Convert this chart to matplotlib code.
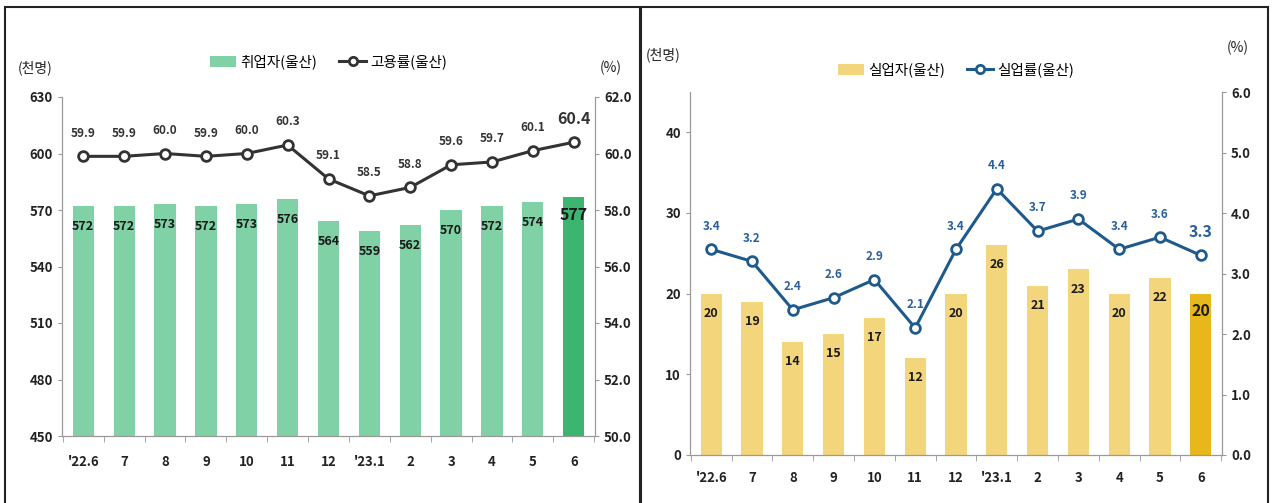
import matplotlib
matplotlib.use("Agg")
import matplotlib.pyplot as plt
from matplotlib.patches import Rectangle
from matplotlib.lines import Line2D
from matplotlib.patches import Patch

plt.rcParams['font.family'] = ['Noto Sans CJK KR', 'DejaVu Sans']

months = ["'22.6", "7", "8", "9", "10", "11", "12", "'23.1", "2", "3", "4", "5", "6"]
employed = [572, 572, 573, 572, 573, 576, 564, 559, 562, 570, 572, 574, 577]
emp_rate = [59.9, 59.9, 60.0, 59.9, 60.0, 60.3, 59.1, 58.5, 58.8, 59.6, 59.7, 60.1, 60.4]
unemployed = [20, 19, 14, 15, 17, 12, 20, 26, 21, 23, 20, 22, 20]
unemp_rate = [3.4, 3.2, 2.4, 2.6, 2.9, 2.1, 3.4, 4.4, 3.7, 3.9, 3.4, 3.6, 3.3]

W, H = 1273, 503
fig = plt.figure(figsize=(W / 100, H / 100), dpi=100)

# panel frames
fig.patches.append(Rectangle((5 / W, -0.01), 635 / W, 1 - 7 / H + 0.01, transform=fig.transFigure,
                             fill=False, edgecolor="#222222", linewidth=1.5))
fig.patches.append(Rectangle((641 / W, -0.01), 627 / W, 1 - 7 / H + 0.01, transform=fig.transFigure,
                             fill=False, edgecolor="#222222", linewidth=1.5))


def style_axes(ax, ax2):
    for a in (ax, ax2):
        a.spines["top"].set_visible(False)
        for s in ("left", "right", "bottom"):
            a.spines[s].set_color("#999999")
            a.spines[s].set_linewidth(0.8)
    ax.tick_params(axis="y", direction="out", length=3, color="#999999", labelsize=9.5)
    ax2.tick_params(axis="y", direction="out", length=3, color="#999999", labelsize=9.5)
    for lab in ax.get_yticklabels() + ax2.get_yticklabels() + ax.get_xticklabels():
        lab.set_fontweight("bold")
        lab.set_color("#222222")


def draw_panel(rect, bars, line, bar_col, last_col, line_col, ylim, y2lim, yticks, y2ticks,
               bar_name, line_name, legend_y, bar_off, line_off, bar_lab_col, line_lab_col,
               xpad, unit_l_y, unit_r_y):
    ax = fig.add_axes(rect)
    x = list(range(len(months)))
    colors = [bar_col] * (len(bars) - 1) + [last_col]
    ax.bar(x, [b - ylim[0] for b in bars], bottom=ylim[0], width=0.52, color=colors, zorder=2)
    ax.set_ylim(*ylim)
    ax.set_yticks(yticks)
    ax.set_yticklabels([str(t) for t in yticks])
    ax.set_xlim(-0.52, len(months) - 0.48)
    ax.set_xticks(x)
    ax.set_xticklabels(months)
    ax.tick_params(axis="x", length=0, labelsize=9.5, pad=xpad)
    ax.set_xticks([i + 0.5 for i in range(-1, len(months))], minor=True)
    ax.tick_params(axis="x", which="minor", length=4, direction="out", color="#999999")
    for i, b in enumerate(bars):
        last = i == len(bars) - 1
        ax.annotate(str(b), (i, b), xytext=(0, bar_off + (3 if last else 0)),
                    textcoords="offset points",
                    ha="center", va="top", fontsize=11.5 if last else 9,
                    fontweight="bold", color=bar_lab_col)

    ax2 = ax.twinx()
    ax2.plot(x, line, color=line_col, linewidth=2.2, marker="o", markersize=7,
             markerfacecolor="white", markeredgecolor=line_col, markeredgewidth=2, zorder=3)
    ax2.set_ylim(*y2lim)
    ax2.set_yticks(y2ticks)
    ax2.set_yticklabels([f"{t:.1f}" for t in y2ticks])
    for i, v in enumerate(line):
        last = i == len(line) - 1
        ax2.annotate(f"{v:.1f}", (i, v), xytext=(0, line_off - (1 if last else 0)),
                     textcoords="offset points",
                     ha="center", va="bottom", fontsize=11.5 if last else 8.5,
                     fontweight="bold", color=line_lab_col)
    style_axes(ax, ax2)

    ax.text(-0.05, 1 + unit_l_y / (rect[3] * H), "(천명)", transform=ax.transAxes,
            ha="center", va="center", fontsize=10, color="#222222")
    ax2.text(1.03, 1 + unit_r_y / (rect[3] * H), "(%)", transform=ax2.transAxes,
             ha="center", va="center", fontsize=10, color="#222222")

    handles = [Patch(facecolor=bar_col, edgecolor="none"),
               Line2D([], [], color=line_col, linewidth=2.2, marker="o", markersize=6,
                      markerfacecolor="white", markeredgecolor=line_col, markeredgewidth=2)]
    fig.legend(handles, [bar_name, line_name], loc="center",
               bbox_to_anchor=(rect[0] + rect[2] * 0.5, legend_y), ncol=2, frameon=False,
               fontsize=10.5, handlelength=1.8, handleheight=0.8, columnspacing=1.5,
               handletextpad=0.3)
    return ax, ax2


draw_panel([62 / W, 1 - 436 / H, 533 / W, 339 / H], employed, emp_rate,
           "#80d1a6", "#3bb56f", "#333333", (450, 630), (50, 62),
           [450, 480, 510, 540, 570, 600, 630], [50, 52, 54, 56, 58, 60, 62],
           "취업자(울산)", "고용률(울산)", 1 - 62 / H, -10, 12, "#1a1a1a", "#333333",
           14, 29, 29)

draw_panel([690 / W, 1 - 455 / H, 532 / W, 363 / H], unemployed, unemp_rate,
           "#f3d67c", "#e8b71a", "#1f5a8c", (0, 45), (0, 6),
           [0, 10, 20, 30, 40], [0, 1, 2, 3, 4, 5, 6],
           "실업자(울산)", "실업률(울산)", 1 - 70 / H, -9.5, 12, "#1a1a1a", "#2a5f9a",
           11.5, 37, 44)

fig.savefig("out.png", dpi=100)
